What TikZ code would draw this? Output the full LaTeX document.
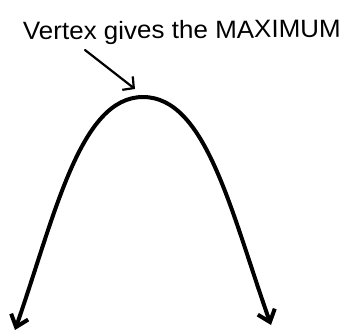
\documentclass[tikz,border=0pt]{standalone}
\usepackage{fontspec}
\setmainfont{Liberation Sans}
\usepackage{graphicx}
\usetikzlibrary{arrows.meta}
\tikzset{
  curveline/.style={line width=4pt, line cap=round, line join=round,
    {Straight Barb[length=11pt,width=18pt,line width=4pt]}-{Straight Barb[length=11pt,width=18pt,line width=4pt]}},
  pointer/.style={line width=2.2pt, line cap=round,
    -{Straight Barb[length=8pt,width=17pt,line width=2.2pt]}},
  label/.style={inner sep=0pt, anchor=base, font=\fontsize{25pt}{28pt}\selectfont}
}
\begin{document}
\begin{tikzpicture}[x=1pt,y=-1pt]
\useasboundingbox (0,0) rectangle (350,333);
\node[label, rotate=0.5] (title) at (182,38.5) {\scalebox{1.04}[1]{Vertex gives the MAXIMUM}};
\coordinate (ps) at (85,50);
\coordinate (pe) at (135,89);
\draw[pointer] (ps) -- (pe);
\coordinate (v) at (143,97);
\coordinate (lc1) at (80,97);
\coordinate (lc2) at (55,215);
\coordinate (lt) at (15,330);
\coordinate (rc1) at (206,97);
\coordinate (rc2) at (231,212);
\coordinate (rt) at (271,325);
\draw[curveline] (lt) .. controls (lc2) and (lc1) .. (v) .. controls (rc1) and (rc2) .. (rt);
\end{tikzpicture}
\end{document}
